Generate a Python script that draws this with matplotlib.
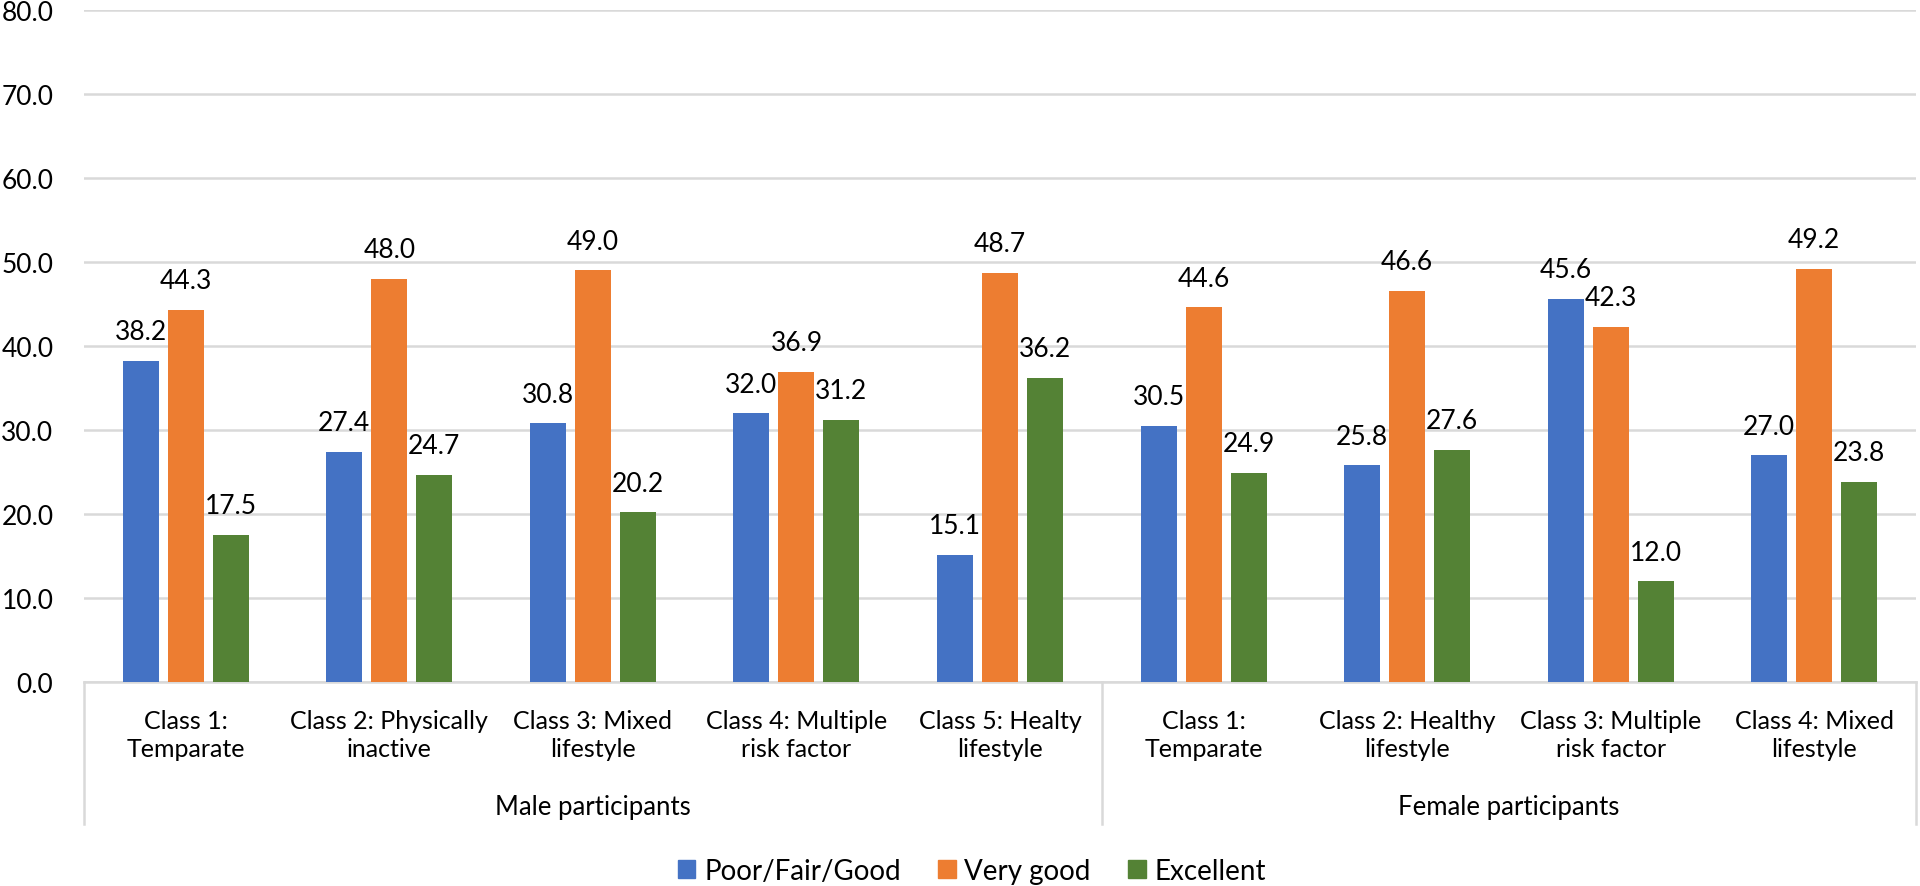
import numpy as np
import matplotlib
matplotlib.use("Agg")
import matplotlib.pyplot as plt
from matplotlib.patches import Patch

plt.rcParams['font.family'] = ['Lato', 'DejaVu Sans']

# data
classes = ["Class 1:\nTemparate", "Class 2: Physically\ninactive", "Class 3: Mixed\nlifestyle",
           "Class 4: Multiple\nrisk factor", "Class 5: Healty\nlifestyle",
           "Class 1:\nTemparate", "Class 2: Healthy\nlifestyle", "Class 3: Multiple\nrisk factor",
           "Class 4: Mixed\nlifestyle"]
groups = ["Male participants", "Female participants"]
group_sizes = [5, 4]
series = ["Poor/Fair/Good", "Very good", "Excellent"]
poor = [38.2, 27.4, 30.8, 32.0, 15.1, 30.5, 25.8, 45.6, 27.0]
very_good = [44.3, 48.0, 49.0, 36.9, 48.7, 44.6, 46.6, 42.3, 49.2]
excellent = [17.5, 24.7, 20.2, 31.2, 36.2, 24.9, 27.6, 12.0, 23.8]
colors = ["#4472C4", "#ED7D31", "#548235"]

fig = plt.figure(figsize=(19.2, 8.87), dpi=100)
ax = fig.add_axes([84/1920, 1 - 683/887, (1916-84)/1920, (683-11)/887])

x = np.arange(len(classes))
width = 0.177
step = 0.221
for i, (vals, col) in enumerate(zip([poor, very_good, excellent], colors)):
    bars = ax.bar(x + (i-1)*step, vals, width, color=col, zorder=3)
    ax.bar_label(bars, fmt='%.1f', padding=12, fontsize=19)

ax.set_xlim(-0.5, len(classes)-0.5)
ax.set_ylim(0, 80)
ax.set_yticks(np.arange(0, 81, 10))
ax.set_yticklabels([f"{v:.1f}" for v in np.arange(0, 81, 10)], fontsize=19)
ax.tick_params(axis='y', length=0, pad=22)
ax.set_xticks([])
ax.grid(axis='y', color='#d9d9d9', linewidth=1.8, zorder=0)
for s in ['top', 'right', 'left']:
    ax.spines[s].set_visible(False)
ax.spines['bottom'].set_color('#d9d9d9')
ax.spines['bottom'].set_linewidth(1.8)

# category labels
trans = ax.get_xaxis_transform()
for xi, lab in zip(x, classes):
    ax.text(xi, -0.078, lab, transform=trans, ha='center', va='center',
            fontsize=18, linespacing=1.3)

# group labels and separators
start = 0
bounds = [-0.5]
for g, n in zip(groups, group_sizes):
    ax.text(start + (n-1)/2, -0.186, g, transform=trans, ha='center', va='center', fontsize=18.5)
    start += n
    bounds.append(start - 0.5)
for b in bounds:
    ax.plot([b, b], [0, -0.211], transform=trans, color='#d9d9d9', linewidth=1.8,
            clip_on=False)

handles = [Patch(color=c) for c in colors]
fig.legend(handles, series, loc='center', bbox_to_anchor=(972/1920, 1 - 872/887),
           ncol=3, frameon=False, fontsize=20, handlelength=0.62, handleheight=0.62,
           handletextpad=0.32, columnspacing=1.35)

fig.savefig("out.png", dpi=100)
